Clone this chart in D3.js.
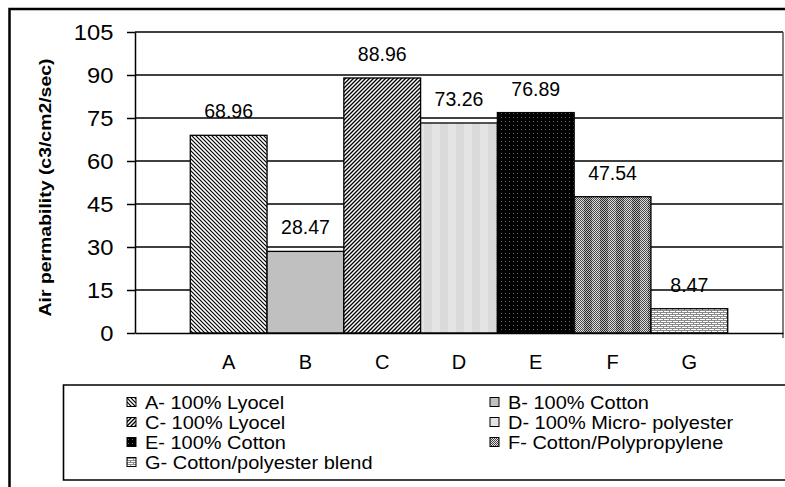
<!DOCTYPE html>
<html>
<head>
<meta charset="utf-8">
<script src="https://cdn.jsdelivr.net/npm/d3@7/dist/d3.min.js"></script>
<style>
  html, body { margin: 0; padding: 0; background: #fff; overflow: hidden; }
  svg { display: block; font-family: "Liberation Sans", Arial, sans-serif; }
</style>
</head>
<body>
<svg id="chart" width="785" height="487"></svg>
<script>
// Fabric samples and their measured air permeability
const categories = ["A", "B", "C", "D", "E", "F", "G"];
const values = [68.96, 28.47, 88.96, 73.26, 76.89, 47.54, 8.47];
const legendLabels = [
  "A- 100% Lyocel",
  "B- 100% Cotton",
  "C- 100% Lyocel",
  "D- 100% Micro- polyester",
  "E- 100% Cotton",
  "F- Cotton/Polypropylene",
  "G- Cotton/polyester blend"
];
const yTicks = [0, 15, 30, 45, 60, 75, 90, 105];
const yTitle = "Air permability (c3/cm2/sec)";

const svg = d3.select("#chart");
const defs = svg.append("defs");

// --- fill patterns, one per fabric ---
function pattern(id, w, h) {
  return defs.append("pattern").attr("id", id)
    .attr("patternUnits", "userSpaceOnUse")
    .attr("width", w).attr("height", h);
}
// A: back-slash hatching
{
  const p = pattern("pA", 4, 4);
  p.append("rect").attr("width", 4).attr("height", 4).attr("fill", "#fff");
  p.append("path").attr("d", "M-1,-1L5,5M3,-1L5,1M-1,3L1,5")
    .attr("stroke", "#000").attr("stroke-width", 1.2);
}
// C: denser forward-slash hatching
{
  const p = pattern("pC", 4, 4);
  p.append("rect").attr("width", 4).attr("height", 4).attr("fill", "#fff");
  p.append("path").attr("d", "M-1,5L5,-1M-1,1L1,-1M3,5L5,3")
    .attr("stroke", "#000").attr("stroke-width", 1.35);
}
// D: light grey vertical bands
{
  const p = pattern("pD", 16, 4);
  p.append("rect").attr("width", 16).attr("height", 4).attr("fill", "#e4e4e4");
  p.append("rect").attr("x", 8).attr("width", 8).attr("height", 4).attr("fill", "#dadada");
}
// E: black with grey dots
{
  const p = pattern("pE", 4, 4);
  p.append("rect").attr("width", 4).attr("height", 4).attr("fill", "#000");
  p.append("rect").attr("x", 1).attr("y", 1).attr("width", 1).attr("height", 1).attr("fill", "#6a6a6a");
}
// F: dithered grey with alternating bands
{
  const p = pattern("pF", 16, 2);
  for (let x = 0; x < 16; x++) {
    for (let y = 0; y < 2; y++) {
      const on = (x + y) % 2 === 0;
      const band = x < 8;
      p.append("rect").attr("x", x).attr("y", y).attr("width", 1).attr("height", 1)
        .attr("fill", band ? (on ? "#4a4a4a" : "#e0e0e0") : (on ? "#2a2a2a" : "#bcbcbc"));
    }
  }
}
// G: white brick
{
  const p = pattern("pG", 6, 4);
  p.append("rect").attr("width", 6).attr("height", 4).attr("fill", "#fff");
  p.append("path").attr("d", "M0,0.5H6M0,2.5H6M0.5,0V2M3.5,2V4")
    .attr("stroke", "#8a8a8a").attr("stroke-width", 1);
}
const fills = ["url(#pA)", "#c0c0c0", "url(#pC)", "url(#pD)", "url(#pE)", "url(#pF)", "url(#pG)"];

// --- outer chart frame (top and left edges fall inside the page) ---
svg.append("path").attr("d", "M9.5,487V9H785")
  .attr("fill", "none").attr("stroke", "#000").attr("stroke-width", 2.5);

// --- scales ---
const plot = { left: 135, right: 783, top: 32, bottom: 333 };
const x = d3.scaleBand().domain(categories)
  .range([plot.left, plot.right]).paddingInner(0).paddingOuter(0.72);
const y = d3.scaleLinear().domain([0, 105]).range([plot.bottom, plot.top]);

// gridlines
svg.append("g").selectAll("line").data(yTicks.filter(d => d > 0)).join("line")
  .attr("x1", plot.left).attr("x2", plot.right)
  .attr("y1", d => y(d)).attr("y2", d => y(d))
  .attr("stroke", "#000").attr("stroke-width", 1.4);

// right edge of plot area
svg.append("line").attr("x1", plot.right).attr("x2", plot.right)
  .attr("y1", plot.top).attr("y2", plot.bottom + 5)
  .attr("stroke", "#555").attr("stroke-width", 1.5);

// bars
svg.append("g").selectAll("rect").data(values).join("rect")
  .attr("x", (d, i) => x(categories[i]))
  .attr("y", d => y(d))
  .attr("width", x.bandwidth())
  .attr("height", d => y(0) - y(d))
  .attr("fill", (d, i) => fills[i])
  .attr("stroke", "#000").attr("stroke-width", 1.3);

// value labels
svg.append("g").selectAll("text").data(values).join("text")
  .attr("x", (d, i) => x(categories[i]) + x.bandwidth() / 2)
  .attr("y", d => y(d) - 17)
  .attr("text-anchor", "middle")
  .attr("font-size", 19.5)
  .attr("fill", "#000")
  .text(d => d.toFixed(2));

// y axis
const yAxis = svg.append("g").attr("transform", `translate(${plot.left},0)`)
  .call(d3.axisLeft(y).tickValues(yTicks).tickSize(8).tickSizeOuter(0).tickPadding(12));
yAxis.select(".domain").attr("stroke", "#000").attr("stroke-width", 1.5);
yAxis.selectAll(".tick line").attr("stroke", "#000").attr("stroke-width", 1.5);
yAxis.selectAll(".tick text").attr("font-size", 22).attr("fill", "#000")
  .attr("font-family", "Liberation Sans, Arial, sans-serif")
  .attr("transform", "scale(1.08,1)");

// x axis
const xAxis = svg.append("g").attr("transform", `translate(0,${plot.bottom})`)
  .call(d3.axisBottom(x).tickSize(0).tickSizeOuter(0).tickPadding(22));
xAxis.select(".domain").attr("stroke", "#000").attr("stroke-width", 1.5);
xAxis.selectAll(".tick text").attr("font-size", 20).attr("fill", "#000")
  .attr("font-family", "Liberation Sans, Arial, sans-serif");

// y axis title
svg.append("text")
  .attr("transform", `translate(51,${(plot.top + plot.bottom) / 2 + 5}) rotate(-90)`)
  .attr("text-anchor", "middle")
  .attr("font-size", 17).attr("font-weight", "bold")
  .attr("textLength", 258).attr("lengthAdjust", "spacingAndGlyphs")
  .text(yTitle);

// legend box: its right edge runs past the page
const legend = svg.append("g");
legend.append("path").attr("d", "M785,385H63.5V480H785")
  .attr("fill", "#fff").attr("stroke", "#000").attr("stroke-width", 1.6);
const colX = [127, 490];
const items = legend.selectAll("g.item").data(legendLabels).join("g")
  .attr("class", "item")
  .attr("transform", (d, i) => `translate(${colX[i % 2]},${402 + Math.floor(i / 2) * 20})`);
items.append("rect").attr("x", 0).attr("y", -4.5).attr("width", 9).attr("height", 9)
  .attr("fill", (d, i) => fills[i]).attr("stroke", "#000").attr("stroke-width", 1);
items.append("text").attr("x", 18).attr("y", 6.5)
  .attr("font-size", 18).attr("fill", "#000")
  .attr("transform", "translate(18,0) scale(1.11,1) translate(-18,0)")
  .text(d => d);
</script>
</body>
</html>
